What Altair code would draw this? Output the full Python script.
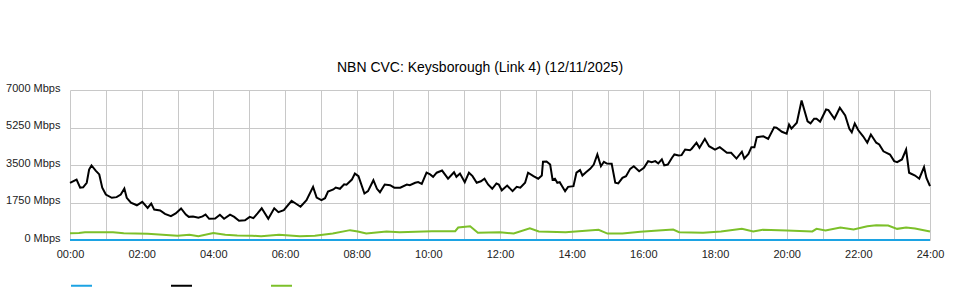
import altair as alt
import pandas as pd

# ---- data (minutes since 00:00, Mbps) ----
black_t = [0, 11, 17, 22, 28, 32, 36, 43, 49, 54, 60, 70, 78, 85, 91, 95, 102, 112, 121, 130,
           136, 141, 151, 159, 169, 177, 186, 194, 199, 206, 215, 222, 227, 233, 243, 251, 258, 268, 275, 283,
           293, 301, 307, 314, 321, 332, 342, 349, 358, 371, 386, 396, 407, 413, 421, 427, 432, 441, 445, 452,
           459, 463, 472, 477, 483, 493, 499, 508, 514, 519, 527, 536, 543, 553, 564, 569, 578, 583, 589, 597,
           603, 608, 614, 623, 633, 643, 647, 653, 661, 668, 674, 681, 688, 694, 700, 707, 714, 718, 723, 732,
           741, 748, 754, 762, 767, 776, 784, 790, 792, 798, 804, 808, 812, 816, 820, 829, 834, 843, 848, 854,
           858, 864, 871, 877, 883, 889, 894, 899, 907, 913, 918, 925, 931, 938, 944, 953, 961, 968, 974, 980,
           985, 991, 995, 1001, 1008, 1012, 1019, 1024, 1030, 1038, 1041, 1049, 1054, 1063, 1070, 1080, 1088, 1100, 1107, 1116,
           1125, 1129, 1136, 1141, 1146, 1150, 1155, 1161, 1169, 1179, 1183, 1192, 1200, 1204, 1208, 1217, 1225, 1235, 1240, 1246,
           1250, 1256, 1266, 1270, 1280, 1289, 1298, 1305, 1309, 1314, 1320, 1328, 1335, 1341, 1350, 1355, 1362, 1373, 1380, 1385,
           1393, 1400, 1405, 1415, 1422, 1430, 1434, 1440]
black_v = [2670, 2820, 2440, 2460, 2670, 3290, 3480, 3240, 3060, 2440, 2120, 1970, 2000, 2120, 2400, 1970, 1740, 1620, 1780, 1500,
           1700, 1420, 1380, 1220, 1110, 1240, 1470, 1190, 1080, 1100, 1040, 1100, 1190, 990, 1000, 1180, 990, 1180, 1080, 900,
           920, 1080, 1020, 1240, 1480, 990, 1480, 1300, 1390, 1830, 1550, 1860, 2480, 1980, 1860, 1950, 2260, 2360, 2450, 2390,
           2600, 2580, 2820, 3100, 2980, 2170, 2280, 2790, 2390, 2230, 2590, 2560, 2440, 2440, 2590, 2560, 2670, 2700, 2620, 3140,
           3060, 2950, 3140, 3240, 2860, 3160, 2950, 3100, 2700, 3140, 2980, 2670, 2740, 2860, 2590, 2390, 2640, 2590, 2320, 2540,
           2280, 2480, 2440, 2670, 3140, 2980, 2860, 3010, 3650, 3660, 3520, 2820, 2860, 2670, 2700, 2280, 2480, 2510, 3140, 3260,
           3010, 3160, 3320, 3520, 3990, 3440, 3650, 3570, 3560, 2670, 2640, 2900, 2980, 3320, 3440, 3210, 3370, 3680, 3630, 3680,
           3570, 3760, 3480, 3520, 3840, 3990, 3940, 3960, 4220, 4190, 4260, 4540, 4300, 4720, 4380, 4220, 4330, 4070, 4070, 3800,
           4120, 3800, 4020, 4330, 4330, 4800, 4820, 4840, 4720, 5260, 5240, 5050, 4960, 5390, 5200, 5470, 6510, 5540, 5440, 5660,
           5660, 5520, 6090, 6060, 5660, 6170, 5810, 5190, 5030, 5440, 5120, 4840, 4540, 4920, 4540, 4460, 4140, 3990, 3680, 3630,
           3760, 4220, 3140, 3010, 2860, 3400, 2900, 2510]

green_t = [0, 15, 25, 50, 72, 90, 110, 130, 155, 180, 200, 215, 240, 260, 280, 305, 320, 350, 385, 410,
           440, 469, 482, 496, 530, 552, 606, 645, 650, 670, 683, 720, 743, 770, 785, 830, 885, 900, 925, 955,
           985, 1010, 1020, 1060, 1090, 1125, 1144, 1160, 1200, 1243, 1250, 1265, 1290, 1312, 1335, 1350, 1370, 1385, 1400, 1415,
           1440]
green_v = [320, 330, 365, 365, 365, 320, 300, 290, 250, 200, 250, 180, 330, 250, 210, 200, 180, 250, 180, 200,
           300, 460, 400, 300, 400, 365, 410, 410, 580, 640, 340, 360, 300, 550, 400, 365, 475, 300, 300, 380,
           445, 490, 365, 340, 400, 520, 400, 475, 445, 400, 520, 440, 580, 490, 645, 690, 675, 520, 580, 535,
           400]

blue_t = [0, 360, 720, 1080, 1440]
blue_v = [0, 0, 0, 0, 0]

series_names = ["Series 1", "Series 2", "Series 3"]
series_colors = ["#1ca3e3", "#000000", "#7cc02a"]

y_ticks = [0, 1750, 3500, 5250, 7000]
hour_ticks = list(range(25))

rows = []
for name, ts, vs in zip(series_names, [blue_t, black_t, green_t], [blue_v, black_v, green_v]):
    for t, v in zip(ts, vs):
        rows.append({"series": name, "hour": t / 60.0, "mbps": v})
df = pd.DataFrame(rows)

FONT = "Liberation Sans"

chart = (
    alt.Chart(df)
    .mark_line(strokeWidth=2, interpolate="linear")
    .encode(
        x=alt.X(
            "hour:Q",
            scale=alt.Scale(domain=[0, 24], nice=False, zero=False),
            axis=alt.Axis(
                values=hour_ticks,
                labelExpr="datum.value % 2 == 0 ? (datum.value < 10 ? '0' : '') + datum.value + ':00' : ''",
                labelOverlap=False,
                labelFlush=False,
                labelPadding=8,
                title=None,
            ),
        ),
        y=alt.Y(
            "mbps:Q",
            scale=alt.Scale(domain=[0, 7000], nice=False),
            axis=alt.Axis(
                values=y_ticks,
                labelExpr="datum.value + ' Mbps'",
                labelPadding=10,
                labelOffset=-2,
                title=None,
            ),
        ),
        color=alt.Color(
            "series:N",
            scale=alt.Scale(domain=series_names, range=series_colors),
            sort=series_names,
            legend=alt.Legend(
                orient="none",
                legendX=0,
                legendY=184,
                direction="horizontal",
                symbolType="stroke",
                symbolSize=441,
                symbolStrokeWidth=2,
                labelExpr="''",
                labelFontSize=0,
                labelOffset=4,
                columnPadding=70,
                title=None,
            ),
        ),
        order=alt.Order("hour:Q"),
    )
    .properties(
        width=860,
        height=150,
        title=alt.TitleParams(
            "NBN CVC: Keysborough (Link 4) (12/11/2025)",
            font=FONT,
            fontSize=14,
            fontWeight="normal",
            color="#000000",
            anchor="middle",
            dx=-20,
            offset=7,
        ),
        autosize=alt.AutoSizeParams(type="none"),
        padding={"left": 70, "top": 90, "right": 30, "bottom": 60},
        background="#ffffff",
    )
    .configure_view(stroke=None)
    .configure_axis(
        labelFont=FONT,
        labelFontSize=11,
        labelColor="#222222",
        domain=False,
        ticks=False,
        gridColor="#c8c8c8",
        gridWidth=1,
    )
)

chart.save("out.html", embed_options={"renderer": "svg", "actions": False})
